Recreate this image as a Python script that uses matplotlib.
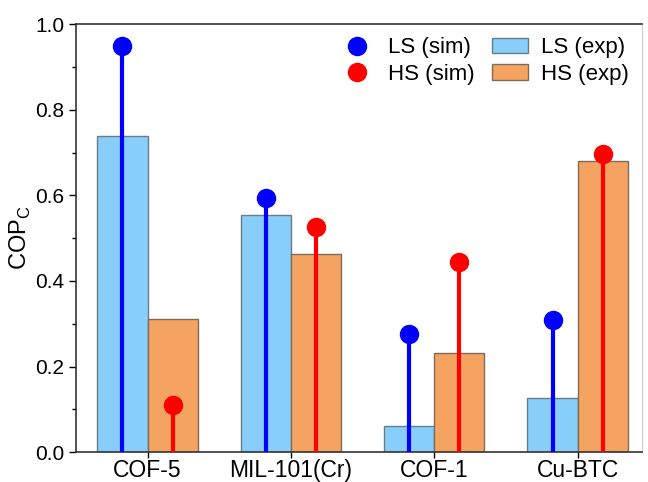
import numpy as np
import matplotlib.pyplot as plt

plt.rcParams['font.family'] = ['Liberation Sans', 'DejaVu Sans']

# values
materials = ['COF-5', 'MIL-101(Cr)', 'COF-1', 'Cu-BTC']
ls_exp = [0.739, 0.555, 0.061, 0.126]
hs_exp = [0.312, 0.462, 0.231, 0.681]
ls_sim = [0.949, 0.594, 0.277, 0.308]
hs_sim = [0.110, 0.527, 0.445, 0.697]

x = np.arange(len(materials))
w = 0.35

fig = plt.figure(figsize=(6.48, 4.82), dpi=100)
ax = fig.add_axes([0.117, 0.062, 0.874, 0.888])

ax.bar(x - w/2, ls_exp, w, color='#87CEFA', edgecolor='#6b7b88', linewidth=1, label='LS (exp)', zorder=2)
ax.bar(x + w/2, hs_exp, w, color='#F4A460', edgecolor='#7d6b5c', linewidth=1, label='HS (exp)', zorder=2)

# lollipops for the simulated values
ax.vlines(x - w/2, 0, ls_sim, color='#0000FF', linewidth=3, zorder=3)
ax.vlines(x + w/2, 0, hs_sim, color='#FF0000', linewidth=3, zorder=3)
ax.plot(x - w/2, ls_sim, 'o', color='#0000FF', markersize=13, linestyle='none', label='LS (sim)', zorder=4)
ax.plot(x + w/2, hs_sim, 'o', color='#FF0000', markersize=13, linestyle='none', label='HS (sim)', zorder=4)

ax.set_xlim(-0.5, 3.45)
ax.set_ylim(0, 1.0)
ax.set_xticks(x)
ax.set_xticklabels(materials, fontsize=16.5)
ax.set_yticks(np.arange(0, 1.01, 0.2))
ax.set_yticklabels(['0.0', '0.2', '0.4', '0.6', '0.8', '1.0'])
ax.set_yticks(np.arange(0.1, 1.0, 0.2), minor=True)
ax.tick_params(axis='y', which='major', direction='out', length=5, labelsize=15, width=1)
ax.tick_params(axis='y', which='minor', direction='out', length=3, width=1)
ax.tick_params(axis='x', direction='out', length=4, width=1, pad=1)
ax.set_ylabel('COP$_\\mathregular{C}$', fontsize=17, labelpad=1)

for s in ['left', 'bottom', 'top']:
    ax.spines[s].set_color('#333333')
    ax.spines[s].set_linewidth(1.2)
ax.spines['right'].set_color('#cccccc')

h, l = ax.get_legend_handles_labels()
order = [l.index(k) for k in ['LS (sim)', 'HS (sim)', 'LS (exp)', 'HS (exp)']]
ax.legend([h[i] for i in order], [l[i] for i in order], ncol=2, loc='upper right',
          frameon=False, fontsize=16, handlelength=1.6, columnspacing=0.8,
          handletextpad=0.6, labelspacing=0.25, borderaxespad=0.2)

fig.savefig('out.png', dpi=100)
